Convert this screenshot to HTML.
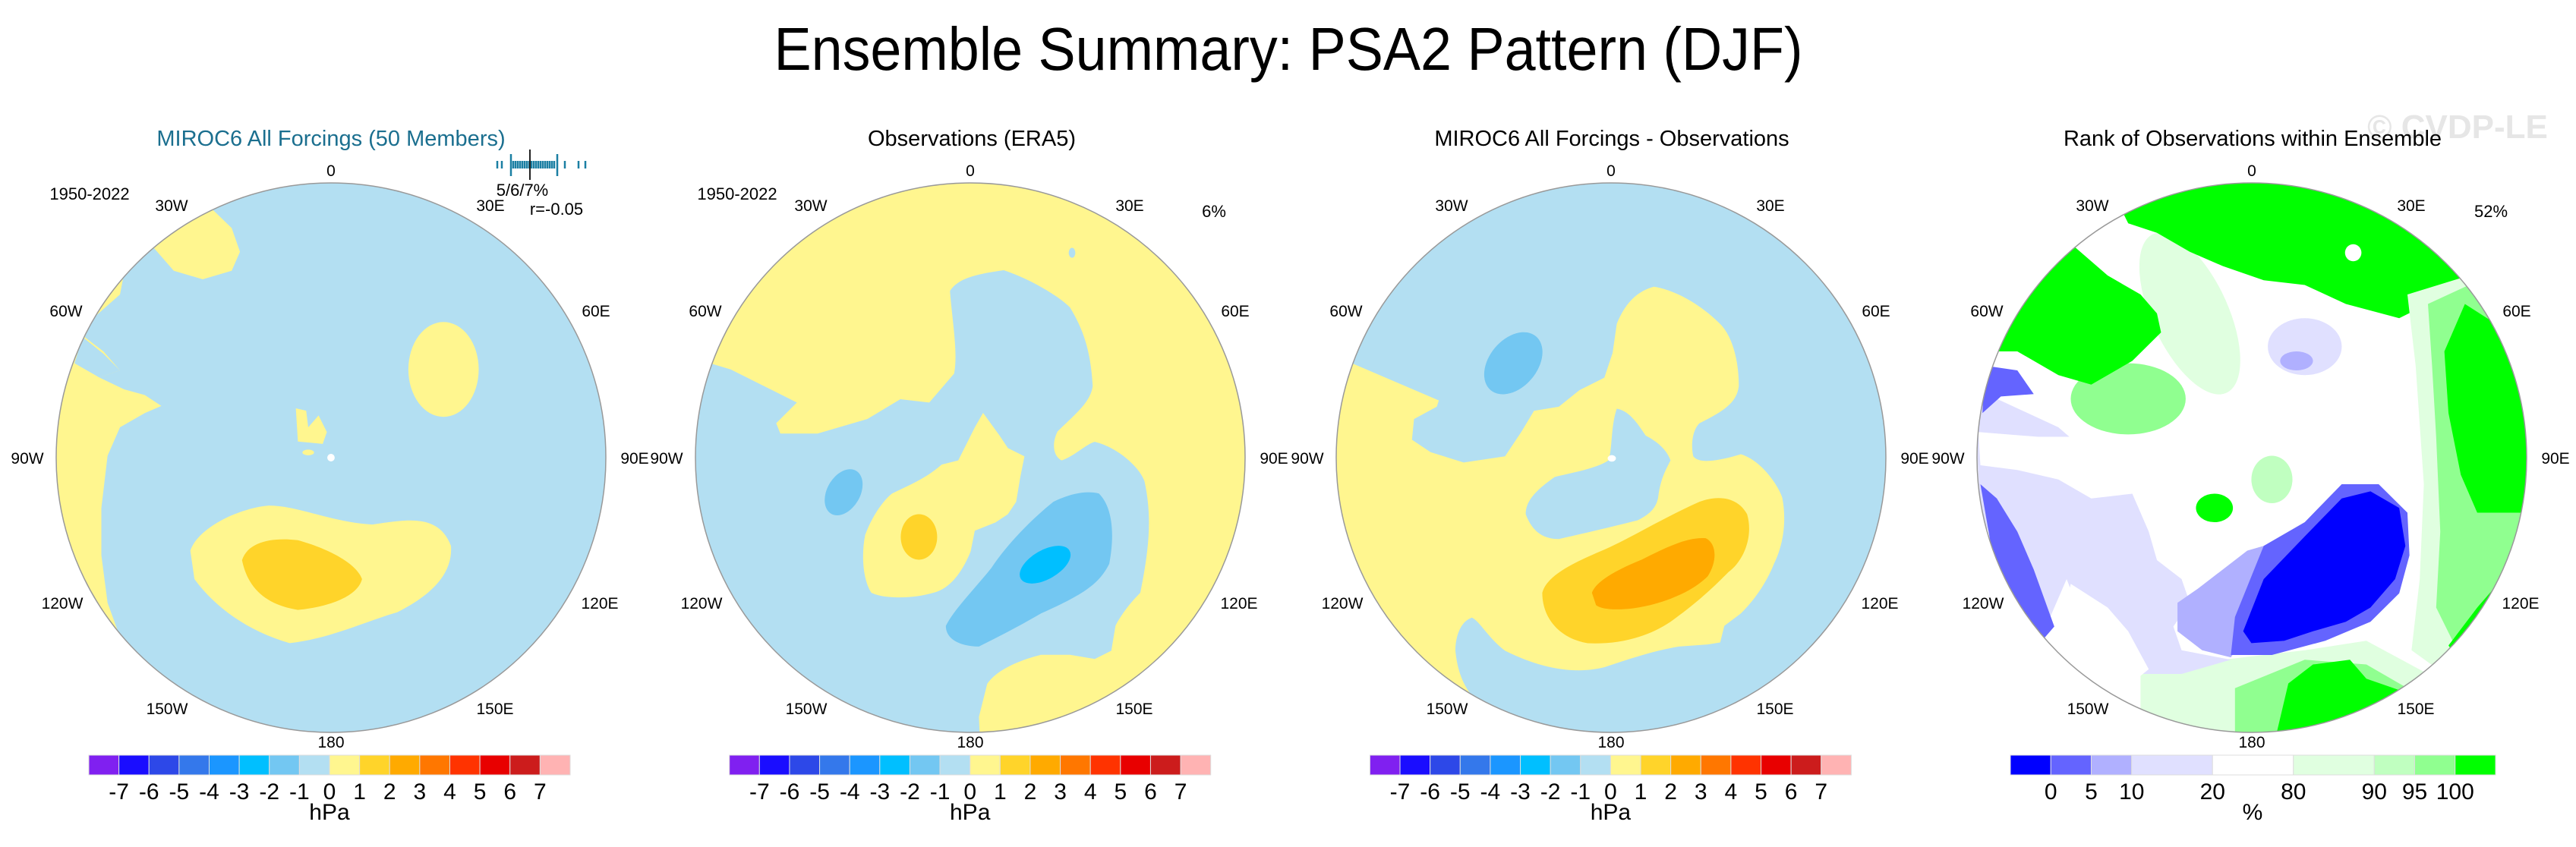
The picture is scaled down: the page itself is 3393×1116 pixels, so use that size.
<!DOCTYPE html>
<html><head><meta charset="utf-8">
<style>
html,body{margin:0;padding:0;background:#fff;}
svg{display:block;font-family:"Liberation Sans",Arial,sans-serif;}
</style></head>
<body>
<svg id="fig" width="3393" height="1116" viewBox="0 0 3393 1116" xmlns="http://www.w3.org/2000/svg">
<defs>
  <clipPath id="c1"><circle cx="436" cy="603" r="362"/></clipPath>
  <clipPath id="c2"><circle cx="1278" cy="603" r="362"/></clipPath>
  <clipPath id="c3"><circle cx="2122" cy="603" r="362"/></clipPath>
  <clipPath id="c4"><circle cx="2966" cy="603" r="362"/></clipPath>
</defs>
<text x="1697" y="92" font-size="80" text-anchor="middle" textLength="1355" lengthAdjust="spacingAndGlyphs">Ensemble Summary: PSA2 Pattern (DJF)</text>
<text x="3237" y="182" font-size="44" font-weight="bold" fill="#e6e6e6" text-anchor="middle">© CVDP-LE</text>

<!-- Panel 1 -->
<g>
<text x="436" y="192" font-size="29" fill="#1b6f8f" text-anchor="middle">MIROC6 All Forcings (50 Members)</text>
<g clip-path="url(#c1)">
<rect x="60" y="230" width="760" height="760" fill="#b3dff2"/>
<g transform="translate(0,138) scale(0.54496,0.625)">
<path fill="#fff68f" d="M370,300 L420,260 515,222 560,260 580,310 560,350 490,368 420,350 Z"/>
<path fill="#fff68f" d="M300,355 L290,400 225,450 205,490 250,520 290,560 240,575 300,600 350,612 390,635 350,650 290,680 260,740 245,850 245,950 260,1050 285,1110 0,1300 0,300 Z"/>
<path fill="#b3dff2" d="M200,490 L250,525 290,560 240,575 180,545 Z"/>
<path fill="#fff68f" d="M460,940 C480,890 580,850 650,845 C720,845 800,880 900,885 C980,875 1060,860 1090,930 C1095,990 1040,1035 960,1070 C880,1090 800,1125 700,1135 C600,1110 520,1060 470,1000 Z"/>
<path fill="#ffd42a" d="M585,960 C600,920 660,912 720,918 C790,935 860,965 875,1000 C865,1035 800,1058 720,1065 C650,1055 600,1025 585,960 Z"/>
<ellipse cx="1072" cy="558" rx="85" ry="100" fill="#fff68f"/>
<path fill="#fff68f" d="M715,640 L740,645 745,680 770,655 790,690 780,715 745,712 720,710 Z"/>
<ellipse cx="745" cy="733" rx="14" ry="6" fill="#fff68f"/>
<ellipse cx="800" cy="744" rx="9" ry="8" fill="#fff"/>
</g>
</g>
<circle cx="436" cy="603" r="362" fill="none" stroke="#999" stroke-width="1.5"/>
<text x="118" y="263" font-size="22" text-anchor="middle">1950-2022</text>
<g id="ticks1" stroke="#1b7fa3" stroke-width="2.5"></g>
<line x1="698" y1="197" x2="698" y2="237" stroke="#222" stroke-width="2"/>
<text x="688" y="258" font-size="22" text-anchor="middle">5/6/7%</text>
<text x="733" y="283" font-size="22" text-anchor="middle">r=-0.05</text>
</g>

<!-- Panel 2 -->
<g>
<text x="1280" y="192" font-size="29" text-anchor="middle">Observations (ERA5)</text>
<g clip-path="url(#c2)">
<rect x="900" y="230" width="760" height="760" fill="#fff68f"/>
<g transform="translate(848,138) scale(0.54496)">
<path fill="#b3dff2" d="M160,625 L210,640 370,720 320,770 330,795 420,795 540,760 620,712 690,720 750,650 C760,600 745,520 740,450 C760,420 800,410 870,400 C930,420 1000,460 1030,490 C1060,540 1080,590 1085,680 C1080,720 1040,750 1000,790 C985,820 990,850 1010,860 C1040,850 1070,820 1090,815 C1150,830 1200,880 1210,910 C1230,1000 1220,1080 1200,1180 C1170,1210 1150,1240 1140,1260 L1130,1320 1090,1340 1030,1330 960,1330 C900,1345 850,1370 830,1400 L810,1480 815,1600 0,1600 0,625 Z"/>
<path fill="#fff68f" d="M820,745 L860,800 880,830 920,850 910,900 900,960 880,990 850,1010 800,1030 790,1080 C770,1130 740,1170 700,1180 C650,1195 580,1195 550,1180 C530,1150 525,1090 535,1040 C550,1000 575,960 600,940 C640,920 680,905 720,870 L760,860 800,780 Z"/>
<ellipse cx="665" cy="1045" rx="44" ry="55" fill="#ffd42a"/>
<ellipse cx="483" cy="937" rx="40" ry="60" transform="rotate(30 483 937)" fill="#73c7f2"/>
<path fill="#73c7f2" d="M730,1260 C750,1220 800,1170 840,1120 C880,1060 940,1000 990,960 C1030,940 1070,932 1100,940 C1130,970 1140,1030 1125,1110 C1100,1160 1060,1185 960,1230 C900,1265 850,1290 810,1310 C770,1310 730,1295 730,1260 Z"/>
<ellipse cx="970" cy="1112" rx="68" ry="35" transform="rotate(-30 970 1112)" fill="#00bfff"/>
<ellipse cx="1035" cy="358" rx="8" ry="12" fill="#b3dff2"/>
</g>
</g>
<circle cx="1278" cy="603" r="362" fill="none" stroke="#999" stroke-width="1.5"/>
<text x="971" y="263" font-size="22" text-anchor="middle">1950-2022</text>
<text x="1599" y="286" font-size="22" text-anchor="middle">6%</text>
</g>

<!-- Panel 3 -->
<g>
<text x="2123" y="192" font-size="29" text-anchor="middle">MIROC6 All Forcings - Observations</text>
<g clip-path="url(#c3)">
<rect x="1740" y="230" width="760" height="760" fill="#b3dff2"/>
<g transform="translate(1699,138) scale(0.54496)">
<path fill="#fff68f" d="M150,625 L360,715 355,730 300,760 295,810 340,840 420,865 520,850 560,790 590,740 650,730 700,690 760,660 780,600 790,530 C810,480 840,450 880,440 C940,450 1000,490 1040,530 C1070,560 1085,620 1085,680 C1080,720 1050,740 990,770 C970,790 970,830 975,850 C990,870 1040,860 1090,845 C1140,860 1180,920 1190,950 C1200,1000 1195,1060 1170,1110 C1150,1160 1120,1200 1090,1230 L1050,1260 1040,1300 1010,1305 940,1310 C880,1320 820,1340 760,1360 C700,1375 620,1370 520,1320 C480,1290 460,1250 440,1240 C410,1250 400,1290 400,1320 C405,1370 420,1410 450,1440 L0,1600 0,625 Z"/>
<path fill="#b3dff2" d="M790,735 C820,740 840,770 860,800 C880,810 910,830 920,860 C910,880 895,905 890,950 C885,975 870,990 840,1005 C800,1015 740,1030 650,1050 C610,1050 585,1030 570,990 C570,960 590,935 640,900 C680,890 740,880 770,860 C780,830 775,780 790,735 Z"/>
<ellipse cx="778" cy="855" rx="10" ry="8" fill="#fff"/>
<ellipse cx="540" cy="625" rx="58" ry="85" transform="rotate(40 540 625)" fill="#73c7f2"/>
<path fill="#ffd42a" d="M610,1180 C620,1140 680,1110 750,1080 C820,1050 900,1000 990,960 C1030,945 1080,945 1105,990 C1120,1040 1100,1100 1060,1130 C1030,1160 990,1200 920,1250 C860,1290 790,1305 720,1302 C650,1290 610,1240 610,1180 Z"/>
<path fill="#ffaa00" d="M730,1180 C740,1150 800,1120 850,1100 C910,1070 960,1045 1005,1048 C1030,1060 1035,1100 1010,1140 C980,1170 930,1195 870,1210 C820,1222 760,1225 740,1210 Z"/>
</g>
</g>
<circle cx="2122" cy="603" r="362" fill="none" stroke="#999" stroke-width="1.5"/>
</g>

<!-- Panel 4 -->
<g>
<text x="2967" y="192" font-size="29" text-anchor="middle">Rank of Observations within Ensemble</text>
<g clip-path="url(#c4)">
<rect x="2590" y="230" width="760" height="760" fill="#ffffff"/>
<g transform="translate(2549,138) scale(0.54083,0.625)">
<ellipse cx="620" cy="440" rx="90" ry="190" transform="rotate(-30 620 440)" fill="#e0ffe0"/>
<ellipse cx="470" cy="620" rx="140" ry="75" fill="#90ff90"/>
<path fill="#00ff00" d="M430,180 L560,170 700,150 930,160 1100,200 1260,310 1300,360 1200,420 1130,450 1000,420 900,380 800,370 700,340 620,310 540,270 470,250 Z"/>
<path fill="#00ff00" d="M340,300 L420,360 500,400 540,440 550,480 480,540 420,570 380,590 300,570 200,520 140,520 180,420 250,350 Z"/>
<path fill="#e0ffe0" d="M1150,400 L1300,360 1420,480 1460,700 1450,950 1380,1050 1300,1130 1240,1200 1160,1150 1180,1000 1190,800 1170,550 Z"/>
<path fill="#90ff90" d="M1200,420 L1300,380 1400,500 1445,700 1445,900 1390,1000 1320,1060 1260,1130 1220,1060 1230,900 1220,700 1210,550 Z"/>
<path fill="#00ff00" d="M1290,420 L1380,470 1430,600 1450,760 1445,860 1320,860 1280,780 1250,650 1240,520 Z"/>
<path fill="#00ff00" d="M1380,1000 L1460,900 1460,1200 1300,1200 1250,1140 1320,1060 Z"/>
<path fill="#e0ffe0" d="M500,1180 L700,1170 900,1150 1050,1130 1200,1200 1000,1330 700,1340 500,1300 Z"/>
<path fill="#90ff90" d="M730,1230 L900,1170 1050,1180 1150,1230 1000,1330 730,1330 Z"/>
<path fill="#00ff00" d="M830,1330 L860,1220 920,1180 1010,1170 1050,1210 1150,1240 1000,1320 900,1340 Z"/>
<path fill="#e0e0ff" d="M100,600 L200,640 300,680 380,740 300,790 380,830 480,820 520,900 540,960 600,1000 620,1050 580,1100 600,1150 720,1170 600,1200 500,1200 380,1130 320,1000 280,1080 180,1000 110,860 100,700 Z"/>
<path fill="#ffffff" d="M105,690 L250,700 380,700 520,720 600,760 540,800 420,800 300,790 200,770 110,760 Z"/>
<path fill="#ffffff" d="M330,1010 L420,1060 470,1110 520,1190 420,1260 340,1200 310,1100 Z"/>
<path fill="#6464ff" d="M120,550 L200,560 240,610 160,615 115,650 Z"/>
<path fill="#6464ff" d="M110,800 L150,830 200,900 240,980 290,1100 260,1130 200,1050 140,950 Z"/>
<path fill="#b0b0ff" d="M590,1050 L640,1020 760,940 800,930 800,1060 720,1165 650,1150 590,1110 Z"/>
<path fill="#6464ff" d="M720,1160 L730,1080 800,930 900,880 990,800 1080,800 1150,860 1155,950 1130,1030 1060,1090 950,1130 820,1160 Z"/>
<path fill="#0000ff" d="M750,1110 L800,1000 900,910 990,830 1060,815 1130,850 1145,930 1120,1000 1060,1060 1000,1090 920,1110 850,1130 770,1135 Z"/>
<ellipse cx="900" cy="510" rx="90" ry="60" fill="#e0e0ff"/>
<ellipse cx="880" cy="540" rx="40" ry="20" fill="#b0b0ff"/>
<ellipse cx="820" cy="790" rx="50" ry="50" fill="#c0ffc0"/>
<ellipse cx="680" cy="850" rx="45" ry="30" fill="#00ff00"/>
<ellipse cx="1018" cy="312" rx="20" ry="18" fill="#ffffff"/>
</g>
</g>
<circle cx="2966" cy="603" r="362" fill="none" stroke="#999" stroke-width="1.5"/>
<text x="3281" y="286" font-size="22" text-anchor="middle">52%</text>
</g>

<g id="lonlabels"></g>
<g id="cbars"></g>
</svg>
<script>
var NS = "http://www.w3.org/2000/svg";
var panelCenters = [436, 1278, 2122, 2966];
var lonNames = ["0","30E","60E","90E","120E","150E","180","150W","120W","90W","60W","30W"];
var hpaLevels = ["-7","-6","-5","-4","-3","-2","-1","0","1","2","3","4","5","6","7"];
var hpaColors = ["#8020f0","#1a0dff","#2d48e8","#3478eb","#1b96ff","#00bfff","#73c7f2","#b3dff2","#fff68f","#ffd42a","#ffaa00","#ff7700","#ff3300","#e80000","#cc1c1c","#ffb3b3"];
var rankLabels = ["0","5","10","20","80","90","95","100"];
var rankColors = ["#0000ff","#6464ff","#b0b0ff","#e0e0ff","#ffffff","#e0ffe0","#c0ffc0","#90ff90","#00ff00"];
var rankWidths = [1,1,1,2,2,2,1,1,1];
var memberTicks = [655,661,673,676,679,682,685,688,691,694,697,700,703,706,709,712,715,718,721,724,727,730,734,744,762,771];
var longTicks = [673,707,734];
var svg = document.getElementById('fig');

function mk(tag, attrs, parent){var e=document.createElementNS(NS,tag);for(var k in attrs)e.setAttribute(k,attrs[k]);parent.appendChild(e);return e;}

var tg=document.getElementById('ticks1');
memberTicks.forEach(function(x){
  var l=longTicks.indexOf(x)>=0;
  var t=mk('line',{x1:x,x2:x,y1:l?203:212,y2:l?232:222},tg);
  
  
});

var offX=[0,210,349,400,354,216,0,-216,-354,-400,-349,-210];
var offY=[-371,-325,-186,8,199,338,382,338,199,8,-186,-325];
var lg=document.getElementById('lonlabels');
panelCenters.forEach(function(cx){
  lonNames.forEach(function(n,i){
    var t=mk('text',{x:cx+offX[i],y:603+offY[i],'font-size':21,'text-anchor':'middle'},lg);
    t.textContent=n;
    
    
  });
});

var cb=document.getElementById('cbars');
[0,1,2].forEach(function(p){
  var x0=117+p*843.7, w=634/hpaColors.length;
  hpaColors.forEach(function(c,i){
    var r=mk('rect',{x:x0+i*w,y:995,width:w,height:26,fill:c,stroke:'#ddd','stroke-width':1},cb);
    
    
  });
  hpaLevels.forEach(function(s,i){
    var t=mk('text',{x:x0+(i+1)*w,y:1053,'font-size':30,'text-anchor':'middle'},cb);
    t.textContent=s;
    
    
  });
  var u=mk('text',{x:x0+317,y:1080,'font-size':30,'text-anchor':'middle'},cb);
  u.textContent='hPa';
  
  
});
(function(){
  var x0=2648, unit=639/12, x=x0, edges=[];
  rankColors.forEach(function(c,i){
    var r=mk('rect',{x:x,y:995,width:unit*rankWidths[i],height:26,fill:c,stroke:'#ddd','stroke-width':1},cb);
    
    
    x+=unit*rankWidths[i]; edges.push(x);
  });
  rankLabels.forEach(function(s,i){
    var t=mk('text',{x:edges[i],y:1053,'font-size':30,'text-anchor':'middle'},cb);
    t.textContent=s;
    
    
  });
  var u=mk('text',{x:x0+319,y:1080,'font-size':30,'text-anchor':'middle'},cb);
  u.textContent='%';
  
  
})();
</script>
</body></html>
